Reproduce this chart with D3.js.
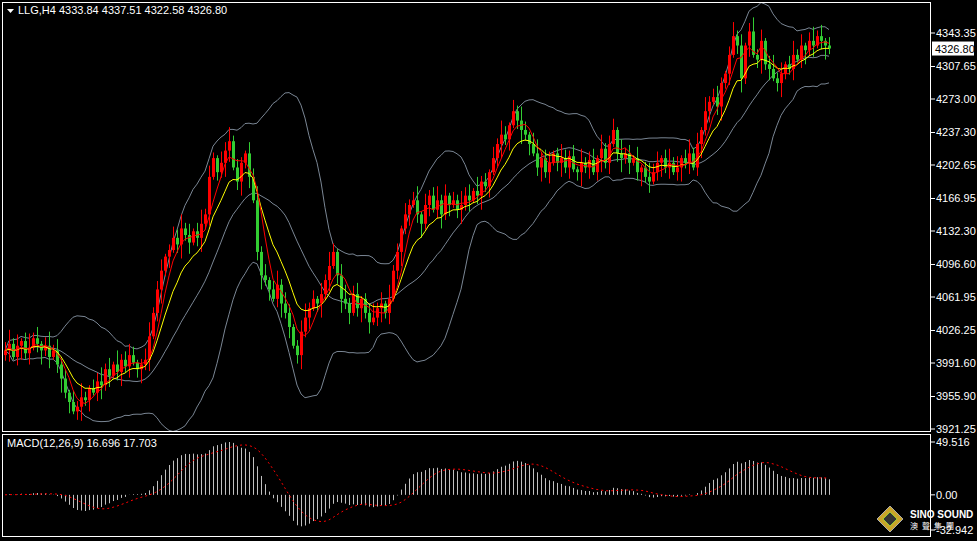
<!DOCTYPE html>
<html><head><meta charset="utf-8">
<script src="https://cdn.jsdelivr.net/npm/d3@7"></script>
<style>body{margin:0;background:#000}svg{display:block}text{font-family:"Liberation Sans",Arial,sans-serif;font-size:11px;fill:#fff}</style>
</head><body>
<svg id="chart" width="977" height="541"></svg>
<script>
'use strict';

var closes = [
  4005,4012,3998,4010,4015,4002,4008,4018,4012,4005,4010,3998,4005,
  3990,3975,3960,3950,3940,3945,
  3955,3952,3965,3960,3972,3968,3985,3978,
  3990,3982,3995,3988,4000,3992,3985,3990,3995,
  4020,4045,4070,4090,4105,4112,
  4125,4118,4135,4128,4120,4132,4125,4140,4150,
  4190,4210,4195,4205,
  4218,4228,4200,4185,4205,4215,
  4190,4165,4110,4085,
  4080,4070,4060,4075,4055,4045,4030,4010,4000,
  4025,4040,4050,4060,4055,4065,4080,4095,4110,
  4085,4060,4055,4045,4065,4050,4060,4045,4035,4040,4050,4055,
  4045,4060,4090,4110,4135,4150,4160,
  4165,4150,4140,4160,4170,4155,4165,4150,4170,4160,4165,4155,4160,4170,4165,4175,4170,4185,4180,
  4195,4210,4225,4235,4230,4245,4260,4250,4240,
  4235,4225,4215,4200,4210,4195,4205,
  4215,4205,4210,4200,4212,4198,4195,4205,4200,4208,4195,4210,4220,4205,
  4225,4240,4215,4210,4215,
  4205,4210,4195,4200,4190,4185,4195,4205,4210,4200,4205,4195,4200,4210,4205,4215,4200,
  4225,4240,4260,4270,4275,4265,4290,4300,
  4320,4340,4330,4295,
  4330,4345,4320,4315,4335,4310,4305,4295,4290,
  4300,4310,4305,4320,4315,4330,4325,4335,4330,4340,4335,4330,4326.8
];
// wick lengths, one digit per bar, times 3 points
var upWicks = "3524135241352423142521335241523431245234124352413524214352321435241352431245231425314523412352415231423514235241325341523142531425314523412532415234152341523141253413524135241523421352413524135241";
var downWicks = "2413524135241352413524135241352413524135241352413524132541352413524135241352413524135241352413524135241352413524135241352413524135241352413524135241352413524135241352413524135241352413524135241352";

var priceTicks = ["4343.35","4307.65","4273.00","4237.30","4202.65","4166.95","4132.30","4096.60","4061.95","4026.25","3991.60","3955.90","3921.25"];
var macdTicks = ["49.516","0.00","-32.942"];
var lastBar = [4333.84, 4337.51, 4322.58, 4326.80];
var macdLast = ["16.696", "17.703"];

var svg = d3.select("#chart");
var W = 977, H = 541;
svg.append("rect").attr("width", W).attr("height", H).attr("fill", "#000");

var bars = closes.map(function (c, i) {
    var o = i === 0 ? 4000 : closes[i - 1];
    var up = +upWicks[i % upWicks.length] * 3;
    var dn = +downWicks[i % downWicks.length] * 3;
    return {i: i, o: o, c: c, h: Math.max(o, c) + up, l: Math.min(o, c) - dn};
});

var x = d3.scaleLinear().domain([0, closes.length - 1]).range([5, 829]);
var y = d3.scaleLinear().domain([3921.25, 4343.35]).range([429, 33]);

function sma(arr, n) {
    return arr.map(function (v, i) {
        var s = arr.slice(Math.max(0, i - n + 1), i + 1);
        return d3.mean(s);
    });
}
function ema(arr, n) {
    var k = 2 / (n + 1), out = [];
    arr.forEach(function (v, i) { out.push(i === 0 ? v : v * k + out[i - 1] * (1 - k)); });
    return out;
}

var mid = sma(closes, 20);
var sd = closes.map(function (v, i) {
    var s = closes.slice(Math.max(0, i - 19), i + 1);
    return s.length > 1 ? d3.deviation(s) * Math.sqrt((s.length - 1) / s.length) : 0;
});
var bbUp = mid.map(function (m, i) { return m + 2 * sd[i]; });
var bbDn = mid.map(function (m, i) { return m - 2 * sd[i]; });
var maFast = sma(closes, 5);
var maSlow = ema(closes, 10);

var gMain = svg.append("g").attr("clip-path", "url(#clipMain)");
svg.append("clipPath").attr("id", "clipMain").append("rect").attr("x", 3).attr("y", 3).attr("width", 928).attr("height", 428);

function drawLine(vals, color) {
    var line = d3.line().x(function (d, i) { return x(i); }).y(function (d) { return y(d); });
    gMain.append("path").attr("d", line(vals)).attr("fill", "none")
        .attr("stroke", color).attr("stroke-width", 1);
}
drawLine(bbUp, "#7a8694");
drawLine(bbDn, "#7a8694");
drawLine(mid, "#7a8694");

var gC = gMain.selectAll("g.candle").data(bars).enter().append("g").attr("class", "candle");
gC.append("line")
    .attr("x1", function (d) { return Math.round(x(d.i)) + 0.5; })
    .attr("x2", function (d) { return Math.round(x(d.i)) + 0.5; })
    .attr("y1", function (d) { return y(d.h); })
    .attr("y2", function (d) { return y(d.l); })
    .attr("stroke", function (d) { return d.c >= d.o ? "#ff0000" : "#32cd32"; });
gC.append("rect")
    .attr("x", function (d) { return Math.round(x(d.i)) - 1; })
    .attr("width", 3)
    .attr("y", function (d) { return y(Math.max(d.o, d.c)); })
    .attr("height", function (d) { return Math.max(1, Math.abs(y(d.o) - y(d.c))); })
    .attr("fill", function (d) { return d.c >= d.o ? "#ff0000" : "#32cd32"; });

drawLine(maSlow, "#ffff00");
drawLine(maFast, "#ff0000");

// frames
svg.append("rect").attr("x", 2.5).attr("y", 2.5).attr("width", 928).attr("height", 429)
    .attr("fill", "none").attr("stroke", "#fff");
svg.append("rect").attr("x", 2.5).attr("y", 434.5).attr("width", 928).attr("height", 102)
    .attr("fill", "none").attr("stroke", "#fff");

// price axis
priceTicks.forEach(function (t) {
    var yy = y(+t);
    svg.append("line").attr("x1", 931).attr("x2", 935).attr("y1", yy).attr("y2", yy).attr("stroke", "#fff");
    svg.append("text").attr("x", 936).attr("y", yy + 4).text(t);
});
var yc = y(lastBar[3]);
svg.append("rect").attr("x", 932).attr("y", yc - 7).attr("width", 42).attr("height", 14).attr("fill", "#fff");
svg.append("text").attr("x", 935).attr("y", yc + 4).style("fill", "#000").text(lastBar[3].toFixed(2));

svg.append("path").attr("d", "M7,9 L14,9 L10.5,13 Z").attr("fill", "#fff");
svg.append("text").attr("x", 18).attr("y", 14).text("LLG,H4  " + lastBar.map(function (v) { return v.toFixed(2); }).join(" "));

// MACD
var e26 = ema(closes, 26);
var macd = ema(closes, 12).map(function (v, i) { return v - e26[i]; });
var signal = sma(macd, 9);
var ym = d3.scaleLinear().domain([-32.942, 49.516]).range([530, 442]).clamp(true);
var gM = svg.append("g");
gM.selectAll("line.hist").data(macd).enter().append("line")
    .attr("x1", function (d, i) { return Math.round(x(i)) + 0.5; })
    .attr("x2", function (d, i) { return Math.round(x(i)) + 0.5; })
    .attr("y1", ym(0)).attr("y2", function (d) { return ym(d); })
    .attr("stroke", "#c0c0c0");
gM.append("path").attr("d", d3.line().x(function (d, i) { return x(i); }).y(function (d) { return ym(d); })(signal))
    .attr("fill", "none").attr("stroke", "#ff0000").attr("stroke-dasharray", "2,3");
macdTicks.forEach(function (t) {
    var yy = ym(+t);
    svg.append("line").attr("x1", 931).attr("x2", 935).attr("y1", yy).attr("y2", yy).attr("stroke", "#fff");
    svg.append("text").attr("x", 936).attr("y", yy + 4).text(t);
});
svg.append("text").attr("x", 7).attr("y", 447).text("MACD(12,26,9) " + macdLast.join(" "));

// logo
var lg = svg.append("g").attr("transform", "translate(890,519)");
lg.append("path").attr("d", "M0,-13 L13,0 L0,13 L-13,0 Z").attr("fill", "#c9a52a").attr("stroke", "#aaa");
lg.append("path").attr("d", "M0,-7 L7,0 L0,7 L-7,0 Z").attr("fill", "#333").attr("stroke", "#9c3");
svg.append("text").attr("x", 910).attr("y", 518).style("font-weight", "bold").style("font-size", "10px").text("SINO SOUND");
svg.append("text").attr("x", 910).attr("y", 529).style("font-size", "8px").style("letter-spacing", "4px")
    .style("font-family", "'Noto Sans CJK TC'").text("澳聲集團");
</script>
</body></html>
